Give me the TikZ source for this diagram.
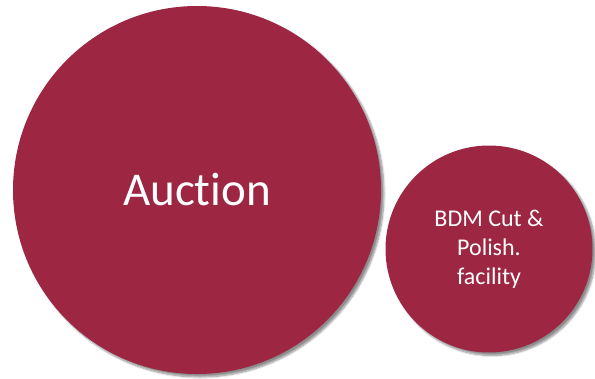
\documentclass[tikz,border=0pt]{standalone}
\usepackage{fontspec}
\setmainfont[Ligatures={NoCommon}]{Carlito}
\usetikzlibrary{shadows,shadows.blur}
\definecolor{berry}{RGB}{157,38,67}
\begin{document}
\begin{tikzpicture}[x=1pt,y=-1pt]

        \useasboundingbox (0,0) rectangle (595,378);

        \begin{scope}[every node/.style={circle,fill=berry,text=white,inner sep=0pt,align=center,
            blur shadow={shadow xshift=3pt,shadow yshift=-3pt,shadow blur steps=8,shadow opacity=45}}]
          \node[minimum size=368pt,font=\fontsize{47}{56}\selectfont] (auction)  at (197,190) {Auction};
          \node[minimum size=207pt,font=\fontsize{24}{29}\selectfont] (facility) at (489,249) {BDM Cut \&\\Polish.\\facility};
        \end{scope}

      \end{tikzpicture}
\end{document}
